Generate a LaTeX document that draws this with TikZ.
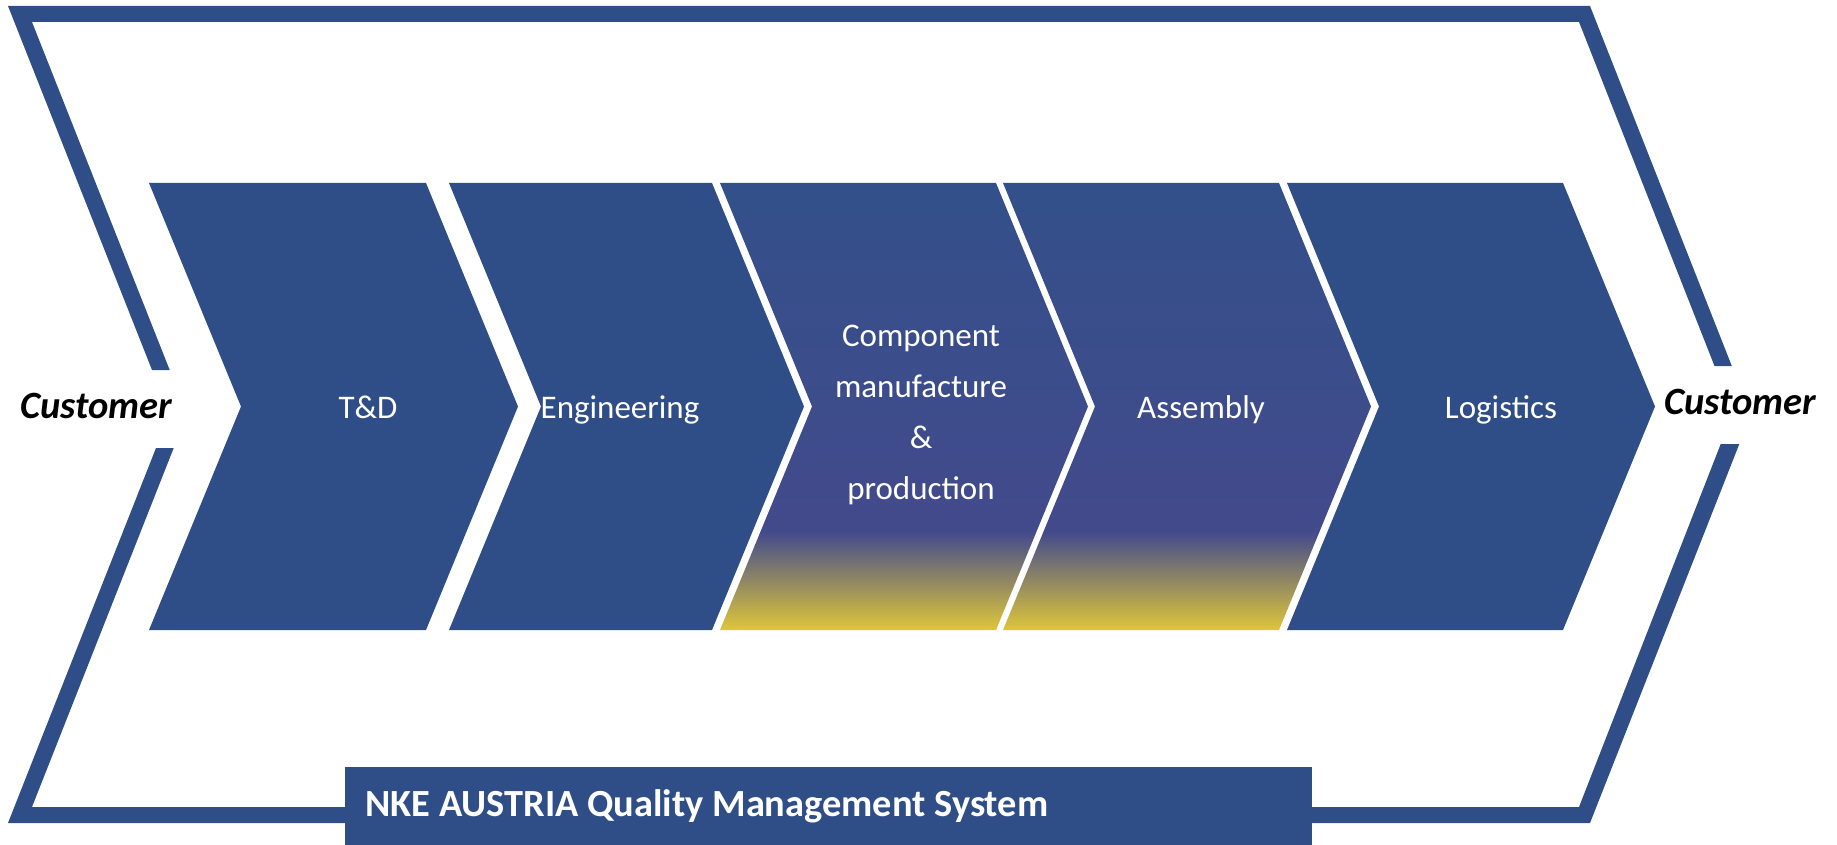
\documentclass[tikz,border=0pt]{standalone}
\usepackage{fontspec}
\setmainfont{Carlito}
\definecolor{qblue}{RGB}{47,78,135}
\definecolor{qtop}{RGB}{51,80,138}
\definecolor{qpurp}{RGB}{67,74,140}
\definecolor{qyel}{RGB}{222,198,58}
\pgfdeclareverticalshading{qgrad}{100bp}{color(0bp)=(qyel); color(25bp)=(qyel); color(36bp)=(qpurp); color(75bp)=(qtop); color(100bp)=(qtop)}
\tikzset{
  band/.style={fill=qblue, draw=none},
  chevblue/.style={fill=qblue, draw=none},
  chevgrad/.style={shading=qgrad, draw=none},
  lbl/.style={text=white, font=\fontsize{16.5}{25.5}\selectfont, inner sep=0pt, anchor=base},
  lblmulti/.style={text=white, font=\fontsize{16.5}{25.5}\selectfont, inner sep=0pt, anchor=north, align=center},
  cust/.style={text=black, font=\bfseries\itshape\fontsize{19.3}{23}\selectfont, inner sep=0pt, anchor=base},
  qmstext/.style={text=white, font=\bfseries\fontsize{19.2}{23}\selectfont, inner sep=0pt, anchor=base west},
}
\begin{document}
\begin{tikzpicture}[x=0.5pt,y=-0.5pt]
\useasboundingbox (0,0) rectangle (1837,845);
% outer frame, upper part
\fill[band] (8,6) -- (1590,6) -- (1731.8,366) -- (1714.5,366) -- (1579,22) -- (32,22) -- (169.7,370) -- (152,370) -- cycle;
% outer frame, lower part
\fill[band] (8,823) -- (156,448) -- (173.7,448) -- (32,807) -- (1579,807) -- (1720.7,444) -- (1739.3,444) -- (1590,823) -- cycle;
% chevrons
\fill[chevblue] (149,183) -- (426,183) -- (518,406.5) -- (426,630) -- (149,630) -- (241,406.5) -- cycle;
\fill[chevblue] (449,183) -- (712,183) -- (804,406.5) -- (712,630) -- (449,630) -- (541,406.5) -- cycle;
\shade[chevgrad] (720,183) -- (996,183) -- (1088,406.5) -- (996,630) -- (720,630) -- (812,406.5) -- cycle;
\shade[chevgrad] (1003,183) -- (1279,183) -- (1371,406.5) -- (1279,630) -- (1003,630) -- (1095,406.5) -- cycle;
\fill[chevblue] (1287,183) -- (1563,183) -- (1655,406.5) -- (1563,630) -- (1287,630) -- (1379,406.5) -- cycle;
% labels
\node[lbl] (td) at (368,418) {T\&D};
\node[lbl] (eng) at (620,418) {Engineering};
\node[lblmulti] (comp) at (921,325) {Component\\manufacture\\\&\\production};
\node[lbl] (asm) at (1201,418) {Assembly};
\node[lbl] (log) at (1501,418) {Logistics};
\node[cust] (custL) at (96.5,418) {Customer};
\node[cust] (custR) at (1740.5,414) {Customer};
% quality management system bar
\fill[band] (345,767) rectangle (1312,845);
\node[qmstext] (qms) at (365,816) {NKE AUSTRIA Quality Management System};
\end{tikzpicture}
\end{document}
